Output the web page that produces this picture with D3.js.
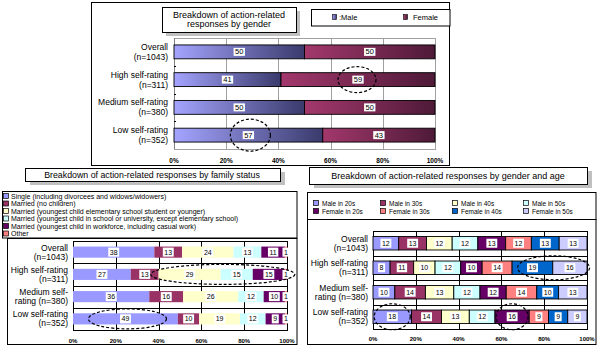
<!DOCTYPE html>
<html><head><meta charset="utf-8">
<script src="https://cdn.jsdelivr.net/npm/d3@7"></script>
<style>
body{margin:0;background:#fff}
svg{display:block}
text{font-family:"Liberation Sans",Arial,sans-serif;fill:#000}
</style>
</head><body><svg id="c" width="600" height="349"></svg>
<script>
// ---------------- data ----------------
const rowLabelsTop = [["Overall","(n=1043)"],["High self-rating","(n=311)"],["Medium self-rating","(n=380)"],["Low self-rating","(n=352)"]];
const rowLabelsBottom = [["Overall","(n=1043)"],["High self-rating","(n=311)"],["Medium self-","rating (n=380)"],["Low self-rating","(n=352)"]];
const tickValues = [0,0.2,0.4,0.6,0.8,1];
const tickLabels = ["0%","20%","40%","60%","80%","100%"];

const genderSeries = ["Male","Female"];
const maleShare   = [50,41,50,57];
const femaleShare = [50,59,50,43];

const familySeries = [
  "Single (including divorcees and widows/widowers)",
  "Married (no children)",
  "Married (youngest child elementary school student or younger)",
  "Married (youngest child in school or university, except elementary school)",
  "Married (youngest child in workforce, including casual work)",
  "Other"
];
const familySingle       = [38,27,36,49];
const familyNoChildren   = [13,13,16,10];
const familyYoungChild   = [24,29,26,19];
const familySchoolChild  = [13,15,12,12];
const familyWorkingChild = [11,15,10,9];
const familyOther        = [1,1,1,1];

const ageSeries = ["Male in 20s","Male in 30s","Male in 40s","Male in 50s","Female in 20s","Female in 30s","Female in 40s","Female in 50s"];
const male20s   = [12,8,10,18];
const male30s   = [13,11,14,14];
const male40s   = [12,10,13,13];
const male50s   = [12,12,12,12];
const female20s = [13,10,12,16];
const female30s = [12,14,14,9];
const female40s = [13,19,10,9];
const female50s = [13,16,13,9];

// ---------------- styles ----------------
const palette = ["#9999ff","#993366","#ffffcc","#ccffff","#660066","#ff8080","#0066cc","#ccccff"];
const genderGrad = [["#a4a4ff","#3a3a6c"],["#a3386c","#4e1a38"]];

const svg = d3.select("#c");
const defs = svg.append("defs");
genderGrad.forEach((c,i)=>{
  const g = defs.append("linearGradient").attr("id","gg"+i).attr("x1","0").attr("x2","1").attr("y1","0").attr("y2","0");
  g.append("stop").attr("offset","0%").attr("stop-color",c[0]);
  g.append("stop").attr("offset","100%").attr("stop-color",c[1]);
});

function box(x,y,w,h,shadow){
  if(shadow) svg.append("rect").attr("x",x+shadow[0]).attr("y",y+shadow[1]).attr("width",w).attr("height",h).attr("fill","#c0c0c0");
  svg.append("rect").attr("x",x+0.5).attr("y",y+0.5).attr("width",w).attr("height",h).attr("fill","#fff").attr("stroke","#000");
}

function drawChart(cfg){
  const rows = cfg.labels.map((l,i)=>{const o={}; cfg.series.forEach((s,k)=>o[s]=cfg.values[k][i]); return o;});
  const stacked = d3.stack().keys(cfg.series).offset(d3.stackOffsetExpand)(rows);
  const x = d3.scaleLinear().domain([0,1]).range([cfg.x0,cfg.x1]);
  const y = d3.scaleBand().domain(d3.range(rows.length)).range([cfg.y0,cfg.y1]).paddingInner(cfg.pad).paddingOuter(cfg.pad/2);
  const g = svg.append("g");
  g.append("rect").attr("x",cfg.x0+0.5).attr("y",cfg.y0+0.5).attr("width",cfg.x1-cfg.x0).attr("height",cfg.y1-cfg.y0)
    .attr("fill","none").attr("stroke",cfg.gridColor);
  g.selectAll(".vg").data(tickValues.slice(1,-1)).join("line")
    .attr("x1",d=>Math.round(x(d))+0.5).attr("x2",d=>Math.round(x(d))+0.5).attr("y1",cfg.y0).attr("y2",cfg.y1)
    .attr("stroke",cfg.gridColor);
  const bounds = d3.range(1,rows.length).map(i=>cfg.y0+y.step()*i);
  if(cfg.hLines){
    g.selectAll(".hg").data(bounds).join("line")
      .attr("x1",cfg.x0).attr("x2",cfg.x1).attr("y1",d=>Math.round(d)+0.5).attr("y2",d=>Math.round(d)+0.5).attr("stroke",cfg.gridColor);
  }
  g.append("line").attr("x1",cfg.x0+0.5).attr("x2",cfg.x0+0.5).attr("y1",cfg.y0).attr("y2",cfg.y1).attr("stroke",cfg.axisColor);
  g.selectAll(".lt").data(bounds).join("line")
    .attr("x1",cfg.x0).attr("x2",cfg.x0+2).attr("y1",d=>Math.round(d)+0.5).attr("y2",d=>Math.round(d)+0.5).attr("stroke","#000");
  stacked.forEach((ser,k)=>{
    g.selectAll(null).data(ser).join("rect")
      .attr("x",d=>x(d[0])).attr("width",d=>x(d[1])-x(d[0]))
      .attr("y",(d,i)=>y(i)).attr("height",y.bandwidth())
      .attr("fill",cfg.fill(k))
      .attr("stroke",cfg.barStroke||"none").attr("stroke-width",0.9);
  });
  stacked.forEach((ser,k)=>{
    ser.forEach((d,i)=>{
      const lg = g.append("g");
      const t = lg.append("text").attr("x",x((d[0]+d[1])/2)).attr("y",y(i)+y.bandwidth()/2)
        .attr("text-anchor","middle").attr("dominant-baseline","central")
        .style("font-size",cfg.numFont+"px").text(cfg.values[k][i]);
      const b = t.node().getBBox();
      lg.insert("rect","text").attr("x",b.x-1.5).attr("y",y(i)+y.bandwidth()/2-cfg.numBox/2).attr("width",b.width+3).attr("height",cfg.numBox).attr("fill","#fff");
    });
  });
  cfg.labels.forEach((l,i)=>{
    const cy = y(i)+y.bandwidth()/2;
    l.forEach((s,j)=>{
      g.append("text").attr("x",cfg.labelX).attr("y",cy+(j-0.5)*cfg.lineGap).attr("text-anchor","end")
        .attr("dominant-baseline","central").style("font-size",cfg.catFont+"px").text(s);
    });
  });
  g.selectAll(".tk").data(tickValues).join("text")
    .attr("x",d=>x(d)).attr("y",cfg.tickY).attr("text-anchor","middle").attr("dominant-baseline","central")
    .style("font-size",cfg.tickFont+"px").style("font-weight","bold").text((d,i)=>tickLabels[i]);
  (cfg.highlights||[]).forEach(h=>{
    const a = stacked[h.from][h.row][0], b = stacked[h.to][h.row][1];
    g.append("ellipse").attr("cx",x((a+b)/2)+(h.dx||0)).attr("cy",y(h.row)+y.bandwidth()/2)
      .attr("rx",h.rx).attr("ry",h.ry).attr("fill","none").attr("stroke","#000")
      .attr("stroke-width",1.2).attr("stroke-dasharray","3,2");
  });
}

// ================= TOP CHART =================
svg.append("rect").attr("x",91.5).attr("y",2.5).attr("width",358).attr("height",163).attr("fill","none").attr("stroke","#000");
drawChart({
  series:genderSeries, values:[maleShare,femaleShare], labels:rowLabelsTop,
  fill:k=>"url(#gg"+k+")", barStroke:"#000",
  x0:174, x1:435, y0:38, y1:149, pad:0.5, hLines:false,
  gridColor:"#a0a0a0", axisColor:"#808080",
  labelX:168, catFont:8.5, lineGap:10, tickY:160, tickFont:6.5, numFont:7.5, numBox:8,
  highlights:[{row:1,from:1,to:1,rx:19,ry:13,dx:-1},{row:3,from:0,to:0,rx:20,ry:16,dx:2}]
});
box(162,7,134,25,[4,4]);
svg.append("text").attr("x",229).attr("y",15).attr("text-anchor","middle").attr("dominant-baseline","central").style("font-size","9px").text("Breakdown of action-related");
svg.append("text").attr("x",229).attr("y",24).attr("text-anchor","middle").attr("dominant-baseline","central").style("font-size","9px").text("responses by gender");
svg.append("rect").attr("x",311.5).attr("y",9.5).attr("width",138.5).attr("height",16.5).attr("fill","#fff").attr("stroke","#000");
const genderLegendX = [332,403];
genderSeries.forEach((s,k)=>{
  svg.append("rect").attr("x",genderLegendX[k]+0.5).attr("y",14.5).attr("width",4).attr("height",5).attr("fill","url(#gg"+k+")").attr("stroke","#000").attr("stroke-width",0.6);
  svg.append("text").attr("x",genderLegendX[k]+(k===0?7:10)).attr("y",17).attr("dominant-baseline","central").style("font-size","7.5px").text(k===0?":Male":s);
});

// ================= BOTTOM LEFT =================
box(25,168,255,13,[5,4]);
svg.append("text").attr("x",152).attr("y",175).attr("text-anchor","middle").attr("dominant-baseline","central").style("font-size","8.8px").text("Breakdown of action-related responses by family status");
svg.append("rect").attr("x",2.5).attr("y",191.5).attr("width",294.5).attr("height",46.5).attr("fill","#fff").attr("stroke","#000");
familySeries.forEach((s,k)=>{
  const yy = 196+k*7.5;
  svg.append("rect").attr("x",3.5).attr("y",yy-2.5).attr("width",5).attr("height",5).attr("fill",palette[k]).attr("stroke","#000").attr("stroke-width",0.7);
  svg.append("text").attr("x",11).attr("y",yy).attr("dominant-baseline","central").style("font-size","7px").text(s);
});
svg.append("rect").attr("x",7.5).attr("y",238.5).attr("width",289.5).attr("height",106).attr("fill","none").attr("stroke","#000");
drawChart({
  series:familySeries, values:[familySingle,familyNoChildren,familyYoungChild,familySchoolChild,familyWorkingChild,familyOther],
  labels:rowLabelsBottom, fill:k=>palette[k], barStroke:null,
  x0:73, x1:287, y0:241, y1:330, pad:0.5, hLines:true,
  gridColor:"#000", axisColor:"#000",
  labelX:68, catFont:8.5, lineGap:9, tickY:341, tickFont:6, numFont:7, numBox:9,
  highlights:[{row:1,from:2,to:5,rx:72,ry:10},{row:3,from:0,to:0,rx:39,ry:10,dx:2}]
});

// ================= BOTTOM RIGHT =================
box(309,167,278,17,[5,4]);
svg.append("text").attr("x",448).attr("y",176).attr("text-anchor","middle").attr("dominant-baseline","central").style("font-size","9px").text("Breakdown of action-related responses by gender and age");
svg.append("rect").attr("x",307.5).attr("y",192.5).attr("width",288.5).attr("height",27).attr("fill","#fff").attr("stroke","#000");
const ageLegendX = [313,380,452,523];
ageSeries.forEach((s,k)=>{
  const col = k%4, row = Math.floor(k/4);
  const yy = 203+row*8;
  svg.append("rect").attr("x",ageLegendX[col]+0.5).attr("y",yy-2.5).attr("width",5).attr("height",5).attr("fill",palette[k]).attr("stroke","#000").attr("stroke-width",0.7);
  svg.append("text").attr("x",ageLegendX[col]+9).attr("y",yy).attr("dominant-baseline","central").style("font-size","6.5px").text(s);
});
svg.append("rect").attr("x",307.5).attr("y",219.5).attr("width",288.5).attr("height",125).attr("fill","none").attr("stroke","#000");
drawChart({
  series:ageSeries, values:[male20s,male30s,male40s,male50s,female20s,female30s,female40s,female50s],
  labels:rowLabelsBottom, fill:k=>palette[k], barStroke:"#000",
  x0:373, x1:587, y0:231, y1:329, pad:0.45, hLines:true,
  gridColor:"#000", axisColor:"#000",
  labelX:368, catFont:8.5, lineGap:9, tickY:339, tickFont:6, numFont:7, numBox:9,
  highlights:[{row:1,from:6,to:7,rx:36,ry:12,dx:4},{row:3,from:0,to:0,rx:18,ry:13},{row:3,from:4,to:4,rx:16,ry:13}]
});
</script>
</body></html>
